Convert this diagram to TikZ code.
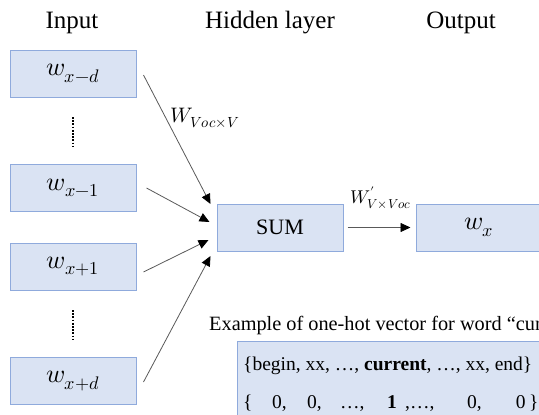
\documentclass[tikz,border=0pt]{standalone}
\usepackage{fontspec}
\usepackage{unicode-math}
\setmainfont{Liberation Serif}
\setmathfont{Latin Modern Math}
\usetikzlibrary{arrows.meta}

\definecolor{boxfill}{HTML}{DAE3F3}
\definecolor{boxline}{HTML}{8FAADC}
\definecolor{wire}{HTML}{595959}

\tikzset{
  unitbox/.style={draw=boxline, fill=boxfill, line width=1pt,
    minimum width=126pt, minimum height=47pt, inner sep=0pt,
    font=\fontsize{26}{30}\selectfont},
  title/.style={anchor=base, inner sep=0pt, font=\fontsize{25}{30}\selectfont},
  link/.style={draw=wire, line width=0.8pt,
    -{Triangle[black, length=10pt, width=9pt]}},
  weight/.style={anchor=base west, inner sep=0pt},
  dotline/.style={line width=2.6pt, dash pattern=on 1.8pt off 1.4pt},
  note/.style={anchor=base west, inner sep=0pt, font=\fontsize{19.5}{23}\selectfont},
}

\begin{document}
\begin{tikzpicture}[x=1pt, y=-1pt]
  \path[use as bounding box, clip] (0,0) rectangle (539,415);

  % column headings
  \node[title] (hin)  at (72,28)  {Input};
  \node[title] (hhid) at (270,28) {Hidden layer};
  \node[title] (hout) at (461,28) {Output};

  % context words
  \node[unitbox] (in1) at (73,73.5)  {$w_{x-d}$};
  \node[unitbox] (in2) at (73,188)   {$w_{x-1}$};
  \node[unitbox] (in3) at (73,266.5) {$w_{x+1}$};
  \node[unitbox] (in4) at (73,381)   {$w_{x+d}$};

  % elided words between the outer and inner context
  \draw[dotline] (73,117) -- (73,146);
  \draw[dotline] (73,310) -- (73,339);

  % hidden layer and output word
  \node[unitbox, font=\fontsize{22}{26}\selectfont] (sum) at (280,227.5) {SUM};
  \node[unitbox] (out) at (479,227.5) {$w_{x}$};

  % input-to-hidden connections
  \draw[link] ([shift={(7,1.5)}]in1.east) -- ([shift={(-6,-23.5)}]sum.west);
  \draw[link] ([shift={(10,0)}]in2.east)  -- ([shift={(-7,-5.5)}]sum.west);
  \draw[link] ([shift={(7,5.5)}]in3.east) -- ([shift={(-8,12.5)}]sum.west);
  \draw[link] ([shift={(7,1)}]in4.east)   -- ([shift={(-6,28.5)}]sum.west);

  % hidden-to-output connection
  \draw[link] ([shift={(4,0)}]sum.east) -- ([shift={(-5,0)}]out.west);

  % weight matrices
  \node[weight, font=\fontsize{21}{24}\selectfont] (win) at (170,122) {$W_{Voc\times V}$};
  \node[weight, font=\fontsize{18.5}{22}\selectfont] (wout) at (350,203) {$W'_{V\times Voc}$};

  % one-hot example
  \node[note, font=\fontsize{20.3}{24}\selectfont] (extitle) at (209,330)
    {Example of one-hot vector for word “current”};
  \draw[draw=boxline, fill=boxfill, line width=1pt] (237,341) rectangle (560,430);
  \node[note] (vocab) at (243,370)
    {\{begin, xx, …, \textbf{current}, …, xx, end\}};
  \node[note] (onehot) at (243,408)
    {\{\hspace{19.6pt}0,\hspace{20.4pt}0,\hspace{18.4pt}…,\hspace{22.6pt}\textbf{1}\hspace{8.25pt},…,\hspace{32.75pt}0,\hspace{34pt}0\hspace{3.5pt}\}};
\end{tikzpicture}
\end{document}
